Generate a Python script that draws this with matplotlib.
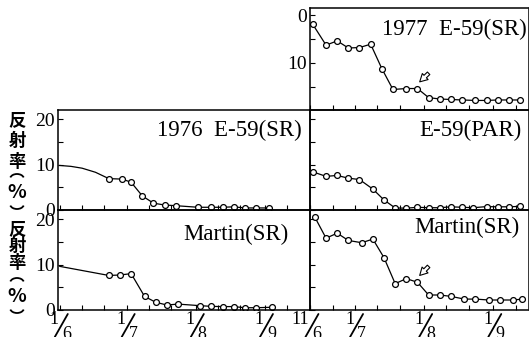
import pandas as pd
import matplotlib
matplotlib.use("Agg")
import matplotlib.pyplot as plt
import matplotlib.dates as mdates
from matplotlib.patches import Arc
from matplotlib.transforms import ScaledTranslation

plt.rcParams["font.family"] = ["Liberation Serif", "DejaVu Serif"]

YEAR = "2000-"

# 1977 E-59 (SR), reflectance %
e59_77_dates = ["06-12", "06-18", "06-23", "06-28", "07-03", "07-08", "07-13", "07-18", "07-24", "07-29",
                "08-03", "08-08", "08-13", "08-18", "08-24", "08-29", "09-03", "09-08", "09-13"]
e59_77_vals = [1.9, 6.3, 5.4, 6.9, 6.8, 6.1, 11.2, 15.6, 15.4, 15.4,
               17.3, 17.6, 17.7, 17.8, 17.9, 17.9, 17.8, 17.8, 17.8]

# 1976 E-59 (SR)
e59_76_lead_dates = ["06-01", "06-06", "06-11", "06-17"]
e59_76_lead_vals = [9.8, 9.6, 9.2, 8.3]
e59_76_dates = ["06-23", "06-29", "07-03", "07-08", "07-13", "07-18", "07-23",
                "08-02", "08-08", "08-13", "08-18", "08-23", "08-28", "09-03"]
e59_76_vals = [6.9, 6.8, 6.1, 3.1, 1.5, 1.1, 0.95, 0.6, 0.6, 0.6, 0.7, 0.45, 0.45, 0.45]

# E-59 (PAR)
e59_par_dates = ["06-12", "06-18", "06-23", "06-28", "07-03", "07-09", "07-14", "07-19", "07-24", "07-29",
                 "08-03", "08-08", "08-13", "08-18", "08-23", "08-29", "09-03", "09-08", "09-13"]
e59_par_vals = [8.4, 7.4, 7.6, 7.0, 6.7, 4.6, 2.2, 0.45, 0.4, 0.6,
                0.5, 0.5, 0.7, 0.6, 0.5, 0.75, 0.7, 0.7, 0.8]

# Martin (SR), left
martin_l_lead_dates = ["06-01"]
martin_l_lead_vals = [9.6]
martin_l_dates = ["06-23", "06-28", "07-03", "07-09", "07-14", "07-19", "07-24",
                  "08-03", "08-08", "08-13", "08-18", "08-23", "08-28", "09-04"]
martin_l_vals = [7.6, 7.7, 8.0, 3.0, 1.7, 1.1, 1.3, 0.95, 0.8, 0.75, 0.75, 0.5, 0.5, 0.6]

# Martin (SR), right
martin_r_dates = ["06-13", "06-18", "06-23", "06-28", "07-04", "07-09", "07-14", "07-19", "07-24", "07-29",
                  "08-03", "08-08", "08-13", "08-19", "08-24", "08-30", "09-04", "09-10", "09-14"]
martin_r_vals = [20.4, 15.8, 16.9, 15.3, 14.8, 15.6, 11.5, 5.8, 6.9, 6.1,
                 3.3, 3.3, 3.0, 2.4, 2.4, 2.2, 2.2, 2.2, 2.4]

# arrows (tail -> tip), date / value
arrow_top = [("08-03", 12.2), ("07-30", 14.0)]
arrow_bot = [("08-03", 9.6), ("07-30", 7.6)]

left_month_labels = [("06-01", "1", "6"), ("07-01", "1", "7"), ("08-01", "1", "8"), ("09-01", "1", "9")]
right_month_labels = [("06-11", "11", "6"), ("07-01", "1", "7"), ("08-01", "1", "8"), ("09-01", "1", "9")]


def d(md):
    return pd.to_datetime([YEAR + s for s in md])


def dn(s):
    return mdates.date2num(pd.Timestamp(YEAR + s))


W, H = 529, 337
fig = plt.figure(figsize=(W / 100, H / 100), dpi=100)


def rect(x0, y0, x1, y1):
    return [x0 / W, 1 - y1 / H, (x1 - x0) / W, (y1 - y0) / H]


ax_top = fig.add_axes(rect(310, 7.5, 528.5, 109.5))
ax_ml = fig.add_axes(rect(58, 110, 310, 210))
ax_mr = fig.add_axes(rect(310, 110, 528.5, 210))
ax_bl = fig.add_axes(rect(58, 210, 310, 310))
ax_br = fig.add_axes(rect(310, 210, 528.5, 310))

left_axes = [ax_ml, ax_bl]
right_axes = [ax_top, ax_mr, ax_br]

for ax in left_axes + right_axes:
    for sp in ax.spines.values():
        sp.set_linewidth(1.1)
    ax.xaxis.set_major_locator(mdates.DayLocator(bymonthday=[1, 11, 21]))
    ax.tick_params(direction="in", length=3.5, width=0.8, labelbottom=False,
                   labelsize=14, pad=2)
    ax.set_facecolor("none")

for ax in left_axes:
    ax.set_xlim(dn("06-01") - 0.8, dn("06-01") - 0.8 + 113)
for ax in right_axes:
    ax.set_xlim(dn("06-11") - 0.2, dn("06-11") - 0.2 + 98)

for ax in [ax_ml, ax_bl, ax_mr, ax_br]:
    ax.set_ylim(0, 22)
    ax.set_yticks([0, 5, 10, 15, 20])
    ax.set_yticklabels(["0", "", "10", "", "20"])
for ax in [ax_mr, ax_br]:
    ax.tick_params(labelleft=False)

ax_top.set_ylim(19.8, -1.6)
ax_top.set_yticks([0, 5, 10, 15])
ax_top.set_yticklabels(["0", "", "10", ""])

line_kw = dict(color="black", lw=0.9, marker="o", ms=4.2, mfc="white", mec="black", mew=0.9)

ax_top.plot(d(e59_77_dates), e59_77_vals, **line_kw)

ax_ml.plot(d(e59_76_lead_dates + e59_76_dates[:1]), e59_76_lead_vals + e59_76_vals[:1], color="black", lw=0.9)
ax_ml.plot(d(e59_76_dates), e59_76_vals, **line_kw)

ax_mr.plot(d(e59_par_dates), e59_par_vals, **line_kw)

ax_bl.plot(d(martin_l_lead_dates + martin_l_dates[:1]), martin_l_lead_vals + martin_l_vals[:1], color="black", lw=0.9)
ax_bl.plot(d(martin_l_dates), martin_l_vals, **line_kw)

ax_br.plot(d(martin_r_dates), martin_r_vals, **line_kw)

arrow_kw = dict(arrowstyle="simple,head_length=0.55,head_width=0.6,tail_width=0.25",
                fc="white", ec="black", lw=0.8, shrinkA=0, shrinkB=0)
for ax, arr in [(ax_top, arrow_top), (ax_br, arrow_bot)]:
    (t_md, t_v), (h_md, h_v) = arr
    ax.annotate("", xy=(dn(h_md), h_v), xytext=(dn(t_md), t_v), arrowprops=arrow_kw)

# panel titles
title_kw = dict(ha="right", va="baseline", fontsize=16.5)
ax_top.text(0.993, 0.73, "1977  E-59(SR)", transform=ax_top.transAxes, **title_kw)
ax_ml.text(0.968, 0.74, "1976  E-59(SR)", transform=ax_ml.transAxes, **title_kw)
ax_mr.text(0.970, 0.74, "E-59(PAR)", transform=ax_mr.transAxes, **title_kw)
ax_bl.text(0.913, 0.70, "Martin(SR)", transform=ax_bl.transAxes, **title_kw)
ax_br.text(0.961, 0.77, "Martin(SR)", transform=ax_br.transAxes, **title_kw)


# fraction-style date labels
def frac(ax, md, num, den):
    x = dn(md)
    base = ax.get_xaxis_transform()

    def off(dx, dy):
        return base + ScaledTranslation(dx / 100, dy / 100, fig.dpi_scale_trans)

    ax.text(x, 0, num, transform=off(-1, -1), ha="right", va="top", fontsize=13, clip_on=False)
    ax.annotate("", xy=(x, 0), xycoords=off(8, -4), xytext=(x, 0), textcoords=off(-5, -27),
                arrowprops=dict(arrowstyle="-", lw=1.3, shrinkA=0, shrinkB=0), annotation_clip=False)
    ax.text(x, 0, den, transform=off(2, -16), ha="left", va="top", fontsize=13, clip_on=False)


for md, n, dd in left_month_labels:
    frac(ax_bl, md, n, dd)
for md, n, dd in right_month_labels:
    frac(ax_br, md, n, dd)

# vertical y-axis label 反射率(%)
cjk = ["Noto Sans CJK JP", "DejaVu Sans"]
ylabel_rows = [[120, 141, 162, 176, 192, 207], [229, 246, 263, 280, 297, 311]]
for ys in ylabel_rows:
    for ch, y in zip(["反", "射", "率"], ys[:3]):
        fig.text(17 / W, 1 - y / H, ch, ha="center", va="center", fontsize=12.5,
                 fontweight="bold", family=cjk)
    fig.text(17 / W, 1 - ys[4] / H, "%", ha="center", va="center", fontsize=14,
             fontweight="bold", family=cjk)
    # vertical-form parentheses drawn as arcs
    fig.patches.append(Arc((17 / W, 1 - (ys[3] + 3) / H), 14 / W, 10 / H, theta1=20, theta2=160,
                           transform=fig.transFigure, lw=1.3, color="black"))
    fig.patches.append(Arc((17 / W, 1 - (ys[5] - 3) / H), 14 / W, 10 / H, theta1=200, theta2=340,
                           transform=fig.transFigure, lw=1.3, color="black"))

fig.savefig("out.png", dpi=100)
